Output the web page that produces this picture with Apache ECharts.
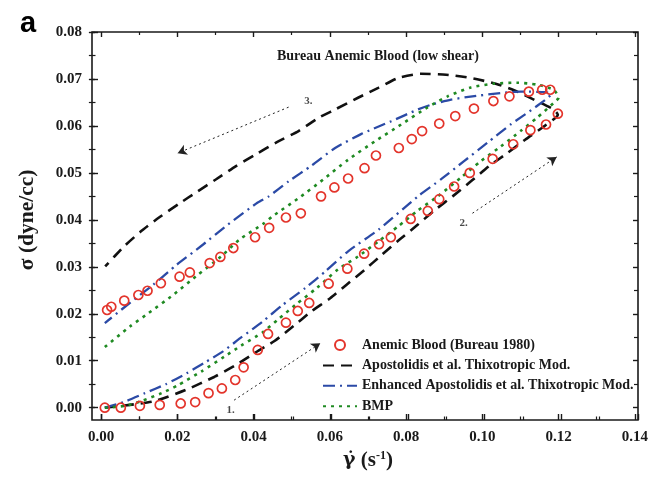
<!DOCTYPE html>
<html>
<head>
<meta charset="utf-8">
<script src="https://cdn.jsdelivr.net/npm/echarts@6/dist/echarts.min.js"></script>
<style>
  html, body { margin: 0; padding: 0; background: #fff; }
  #chart { width: 651px; height: 484px; }
</style>
</head>
<body>
<div id="chart"></div>
<script>
// Axis ranges, tick steps and tick positions
const xRange = [0, 0.14];
const xStep = 0.02;
const yRange = [0, 0.08];
const yStep = 0.01;
const xTicks = [0, 0.02, 0.04, 0.06, 0.08, 0.10, 0.12, 0.14];
const xMinorTicks = [0.01, 0.03, 0.05, 0.07, 0.09, 0.11, 0.13];
const yTicks = [0, 0.01, 0.02, 0.03, 0.04, 0.05, 0.06, 0.07, 0.08];
const yMinorTicks = [0.005, 0.015, 0.025, 0.035, 0.045, 0.055, 0.065, 0.075];

// Legend / series names
const seriesNames = [
  'Anemic Blood (Bureau 1980)',
  'Apostolidis et al. Thixotropic Mod.',
  'Enhanced Apostolidis et al. Thixotropic Mod.',
  'BMP'
];

// Measured hysteresis loop: rising branch, then falling branch
const bureauX = [0.0010, 0.0052, 0.0102, 0.0154, 0.0209, 0.0247, 0.0282, 0.0317, 0.0352, 0.0374,
  0.0411, 0.0438, 0.0485, 0.0516, 0.0546, 0.0597, 0.0646, 0.0690, 0.0729, 0.0760,
  0.0812, 0.0857, 0.0887, 0.0926, 0.0967, 0.1027, 0.1081, 0.1126, 0.1167, 0.1198,
  0.1178, 0.1157, 0.1122, 0.1071, 0.1029, 0.0978, 0.0929, 0.0887, 0.0842, 0.0815,
  0.0781, 0.0721, 0.0691, 0.0648, 0.0612, 0.0577, 0.0524, 0.0485, 0.0441, 0.0404,
  0.0347, 0.0313, 0.0285, 0.0233, 0.0206, 0.0157, 0.0122, 0.0098, 0.0061, 0.0027, 0.0016];
const bureauY = [0.0000, 0.0000, 0.0004, 0.0006, 0.0009, 0.0012, 0.0031, 0.0041, 0.0059, 0.0086,
  0.0123, 0.0157, 0.0181, 0.0206, 0.0223, 0.0264, 0.0296, 0.0328, 0.0348, 0.0363,
  0.0402, 0.0419, 0.0444, 0.0471, 0.0500, 0.0530, 0.0561, 0.0591, 0.0603, 0.0626,
  0.0677, 0.0677, 0.0673, 0.0663, 0.0653, 0.0637, 0.0621, 0.0605, 0.0589, 0.0572,
  0.0553, 0.0537, 0.0510, 0.0488, 0.0469, 0.0450, 0.0414, 0.0405, 0.0383, 0.0363,
  0.0340, 0.0321, 0.0308, 0.0288, 0.0279, 0.0265, 0.0249, 0.0240, 0.0228, 0.0215, 0.0208];

// Apostolidis et al. thixotropic model
const apostX = [0.0010, 0.0136, 0.0223, 0.0298, 0.0350, 0.0402, 0.0455, 0.0505, 0.0550, 0.0601,
  0.0644, 0.0692, 0.0737, 0.0783, 0.0831, 0.0874, 0.0922, 0.0970, 0.1017, 0.1065,
  0.1113, 0.1165, 0.1198,
  0.1187, 0.1135, 0.1083, 0.1035, 0.0970, 0.0905, 0.0839, 0.0779, 0.0727, 0.0674,
  0.0614, 0.0570, 0.0518, 0.0458, 0.0405, 0.0353, 0.0301, 0.0254, 0.0206, 0.0154,
  0.0104, 0.0060, 0.0011];
const apostY = [0.0000, 0.0013, 0.0038, 0.0066, 0.0089, 0.0116, 0.0142, 0.0174, 0.0204, 0.0233,
  0.0262, 0.0294, 0.0326, 0.0358, 0.0390, 0.0420, 0.0450, 0.0482, 0.0514, 0.0542,
  0.0571, 0.0601, 0.0624,
  0.0635, 0.0656, 0.0676, 0.0690, 0.0702, 0.0709, 0.0711, 0.0702, 0.0681, 0.0660,
  0.0635, 0.0617, 0.0589, 0.0564, 0.0539, 0.0514, 0.0486, 0.0461, 0.0435, 0.0406,
  0.0375, 0.0343, 0.0301];

// Enhanced Apostolidis et al. model
const enhX = [0.0010, 0.0063, 0.0115, 0.0170, 0.0224, 0.0276, 0.0320, 0.0365, 0.0423, 0.0475,
  0.0536, 0.0588, 0.0648, 0.0729, 0.0831, 0.0891, 0.0952, 0.1013, 0.1074, 0.1139, 0.1180,
  0.1165, 0.1100, 0.1048, 0.0974, 0.0918, 0.0865, 0.0831, 0.0761, 0.0683, 0.0614,
  0.0553, 0.0492, 0.0440, 0.0411, 0.0333, 0.0267, 0.0198, 0.0137, 0.0063, 0.0010];
const enhY = [0.0000, 0.0013, 0.0031, 0.0050, 0.0073, 0.0098, 0.0120, 0.0148, 0.0183, 0.0218,
  0.0255, 0.0290, 0.0333, 0.0380, 0.0450, 0.0486, 0.0525, 0.0564, 0.0603, 0.0640, 0.0668,
  0.0672, 0.0673, 0.0670, 0.0663, 0.0656, 0.0645, 0.0635, 0.0610, 0.0583, 0.0553,
  0.0516, 0.0482, 0.0450, 0.0437, 0.0390, 0.0347, 0.0304, 0.0262, 0.0215, 0.0180];

// BMP model
const bmpX = [0.0010, 0.0063, 0.0102, 0.0159, 0.0202, 0.0263, 0.0324, 0.0367, 0.0423, 0.0466,
  0.0510, 0.0566, 0.0622, 0.0674, 0.0727, 0.0779, 0.0831, 0.0883, 0.0944, 0.0996,
  0.1048, 0.1100, 0.1143, 0.1187, 0.1200,
  0.1187, 0.1143, 0.1091, 0.1030, 0.0970, 0.0909, 0.0857, 0.0787, 0.0718, 0.0648,
  0.0583, 0.0518, 0.0449, 0.0428, 0.0363, 0.0315, 0.0254, 0.0189, 0.0124, 0.0076, 0.0010];
const bmpY = [0.0000, 0.0004, 0.0013, 0.0031, 0.0048, 0.0077, 0.0109, 0.0132, 0.0160, 0.0189,
  0.0219, 0.0255, 0.0295, 0.0322, 0.0354, 0.0386, 0.0420, 0.0450, 0.0490, 0.0525,
  0.0556, 0.0589, 0.0617, 0.0649, 0.0660,
  0.0677, 0.0688, 0.0692, 0.0690, 0.0682, 0.0663, 0.0640, 0.0603, 0.0567, 0.0528,
  0.0486, 0.0446, 0.0407, 0.0393, 0.0358, 0.0322, 0.0283, 0.0240, 0.0201, 0.0173, 0.0129];

// Loop direction arrows (start -> end) and their step numbers
const arrowStartX = [0.0349, 0.0974, 0.0492];
const arrowStartY = [0.0016, 0.0414, 0.0640];
const arrowEndX = [0.0575, 0.1195, 0.0201];
const arrowEndY = [0.0137, 0.0534, 0.0542];
const stepTags = ['1.', '2.', '3.'];
const stepTagX = [0.0340, 0.0951, 0.0544];
const stepTagY = [-0.0005, 0.0393, 0.0652];

const SERIF = "'Liberation Serif', 'Times New Roman', serif";
const INK = '#1a1a1a';
const W = 651, H = 484;

function pairs(xs, ys) { return xs.map((x, i) => [x, ys[i]]); }

const chart = echarts.init(document.getElementById('chart'), null, { renderer: 'canvas' });

// Plot frame, and the data area whose origin sits a little inside the frame
const frame = { left: 92, right: 13, top: 32, bottom: 64 };
const area = { left: 101, right: 13, top: 32, bottom: 76.3 };
const areaW = W - area.left - area.right;
const areaH = H - area.top - area.bottom;
const padX = area.left - frame.left;     // gap between frame and x = 0
const padY = area.bottom - frame.bottom; // gap between frame and y = 0
// value ranges spanned by the whole frame
const xFrameRange = [xRange[0] - padX * (xRange[1] - xRange[0]) / areaW, xRange[1]];
const yFrameRange = [yRange[0] - padY * (yRange[1] - yRange[0]) / areaH, yRange[1]];

const majorTickStyle = { color: INK, width: 1.4 };
const minorTickStyle = { color: INK, width: 1.2 };

// Tick-only axes point outward from their nominal side; they are moved onto
// the opposite frame edge so the ticks face into the plot.
function tickAxis(range, step, position, offset, majorLen, minorLen) {
  return {
    type: 'value', gridIndex: 0, min: range[0], max: range[1], interval: step,
    position, offset,
    splitLine: { show: false },
    axisLine: { show: false, onZero: false },
    axisLabel: { show: false },
    axisTick: { show: true, inside: false, length: majorLen, lineStyle: majorTickStyle },
    minorTick: { show: true, splitNumber: 2, length: minorLen, lineStyle: minorTickStyle }
  };
}

// Frame-grid axes: hidden [0, 1] hosts put the zero line on the frame edge,
// and tick axes sitting on that zero line carry explicit tick values.
function frameHost() {
  return { type: 'value', gridIndex: 1, show: false, min: 0, max: 1, axisLine: { onZero: false } };
}
function frameTicks(range, values, len, style) {
  return {
    type: 'value', gridIndex: 1, min: range[0], max: range[1],
    splitLine: { show: false },
    axisLine: { show: false, onZero: true },
    axisLabel: { show: false },
    axisTick: { show: true, inside: true, length: len, customValues: values, lineStyle: style }
  };
}

const lineLegend = { color: 'rgba(0,0,0,0)', borderWidth: 0, opacity: 0 };

const option = {
  animation: false,
  backgroundColor: '#fff',
  title: [
    {
      text: 'Bureau Anemic Blood (low shear)',
      left: 272, top: 44,
      textStyle: { fontFamily: SERIF, fontWeight: 'bold', fontSize: 14, color: INK }
    },
    {
      text: 'a',
      left: 15, top: 4,
      textStyle: { fontFamily: "'Liberation Sans', Arial, sans-serif", fontWeight: 'bold', fontSize: 29, color: '#000' }
    }
  ],
  grid: [
    Object.assign({ show: false, containLabel: false }, area),
    Object.assign({ show: true, borderColor: INK, borderWidth: 1.6, backgroundColor: 'rgba(0,0,0,0)', containLabel: false }, frame)
  ],
  legend: {
    orient: 'vertical',
    left: 322, top: 338, padding: 0,
    itemWidth: 34, itemHeight: 10, itemGap: 6.4,
    textStyle: { fontFamily: SERIF, fontWeight: 'bold', fontSize: 14, color: INK },
    data: [
      { name: seriesNames[0] },
      { name: seriesNames[1], itemStyle: lineLegend },
      { name: seriesNames[2], itemStyle: lineLegend },
      { name: seriesNames[3], itemStyle: lineLegend }
    ]
  },
  xAxis: [
    // labels + title along the bottom frame edge
    {
      type: 'value', gridIndex: 0, min: xRange[0], max: xRange[1], interval: xStep,
      position: 'bottom', offset: padY,
      splitLine: { show: false },
      axisLine: { show: false, onZero: false },
      axisTick: { show: false },
      name: '{g|γ̇}{a| (s}{b|-1}{a|)}',
      nameLocation: 'middle', nameGap: 28,
      nameTextStyle: {
        rich: {
          g: { fontFamily: "'DejaVu Serif', serif", fontWeight: 'bold', fontSize: 19, color: INK },
          a: { fontFamily: SERIF, fontWeight: 'bold', fontSize: 21, color: INK },
          b: { fontFamily: SERIF, fontWeight: 'bold', fontSize: 12, color: INK, verticalAlign: 'top' }
        }
      },
      axisLabel: {
        show: true, margin: 10,
        formatter: v => v.toFixed(2),
        fontFamily: SERIF, fontWeight: 'bold', fontSize: 15, color: INK
      }
    },
    // ticks on the bottom edge, pointing up
    tickAxis(xRange, xStep, 'top', -(areaH + padY), 6, 3.5),
    // ticks on the top edge, pointing down
    tickAxis(xRange, xStep, 'bottom', -areaH, 5, 3),
    // frame grid: hosts, then bottom-edge ticks
    frameHost(), frameHost(),
    Object.assign(frameTicks(xFrameRange, xTicks, 6, majorTickStyle), { position: 'bottom' }),
    Object.assign(frameTicks(xFrameRange, xMinorTicks, 3.5, minorTickStyle), { position: 'bottom' })
  ],
  yAxis: [
    // labels + title along the left frame edge
    {
      type: 'value', gridIndex: 0, min: yRange[0], max: yRange[1], interval: yStep,
      position: 'left', offset: padX,
      splitLine: { show: false },
      axisLine: { show: false, onZero: false },
      axisTick: { show: false },
      name: 'σ (dyne/cc)',
      nameLocation: 'middle', nameGap: 54, nameRotate: 90,
      nameTextStyle: { fontFamily: SERIF, fontWeight: 'bold', fontSize: 21.5, color: INK },
      axisLabel: {
        show: true, margin: 10,
        formatter: v => v.toFixed(2),
        fontFamily: SERIF, fontWeight: 'bold', fontSize: 15, color: INK
      }
    },
    // ticks on the left edge, pointing right
    tickAxis(yRange, yStep, 'right', -(areaW + padX), 6, 3.5),
    // ticks on the right edge, pointing left
    tickAxis(yRange, yStep, 'left', -areaW, 5, 4),
    // frame grid: hosts, then left-edge ticks
    frameHost(), frameHost(),
    Object.assign(frameTicks(yFrameRange, yTicks, 6, majorTickStyle), { position: 'left' }),
    Object.assign(frameTicks(yFrameRange, yMinorTicks, 3.5, minorTickStyle), { position: 'left' })
  ],
  series: [
    {
      name: seriesNames[1], type: 'line', showSymbol: false, symbol: 'none', z: 2, clip: false,
      data: pairs(apostX, apostY), smooth: 0.2,
      lineStyle: { color: '#111', width: 2.6, type: [11, 7] },
      itemStyle: { color: '#111' }
    },
    {
      name: seriesNames[2], type: 'line', showSymbol: false, symbol: 'none', z: 2, clip: false,
      data: pairs(enhX, enhY), smooth: 0.2,
      lineStyle: { color: '#2b4aa6', width: 2.3, type: [12, 5, 2, 5] },
      itemStyle: { color: '#2b4aa6' }
    },
    {
      name: seriesNames[3], type: 'line', showSymbol: false, symbol: 'none', z: 2, clip: false,
      data: pairs(bmpX, bmpY), smooth: 0.2,
      lineStyle: { color: '#1f8a22', width: 2.6, type: [3, 5] },
      itemStyle: { color: '#1f8a22' }
    },
    {
      name: seriesNames[0], type: 'scatter', z: 4, clip: false,
      symbol: 'circle', symbolSize: 9,
      data: pairs(bureauX, bureauY),
      itemStyle: { color: 'rgba(255,255,255,0)', borderColor: '#e3342b', borderWidth: 1.7, opacity: 1 },
      markLine: {
        silent: true,
        symbol: ['none', 'arrow'],
        symbolSize: [8, 9],
        label: { show: false },
        itemStyle: { color: '#222' },
        lineStyle: { color: '#222', width: 1, type: [2, 3] },
        data: arrowStartX.map((x, i) => [
          { coord: [x, arrowStartY[i]] },
          { coord: [arrowEndX[i], arrowEndY[i]] }
        ])
      }
    },
    {
      name: 'steps', type: 'scatter', symbolSize: 0, silent: true, z: 5, clip: false,
      data: stepTagX.map((x, i) => [x, stepTagY[i]]),
      label: {
        show: true, position: 'inside',
        formatter: p => stepTags[p.dataIndex],
        fontFamily: SERIF, fontWeight: 'bold', fontSize: 11, color: INK
      }
    }
  ]
};

chart.setOption(option);
</script>
</body>
</html>
